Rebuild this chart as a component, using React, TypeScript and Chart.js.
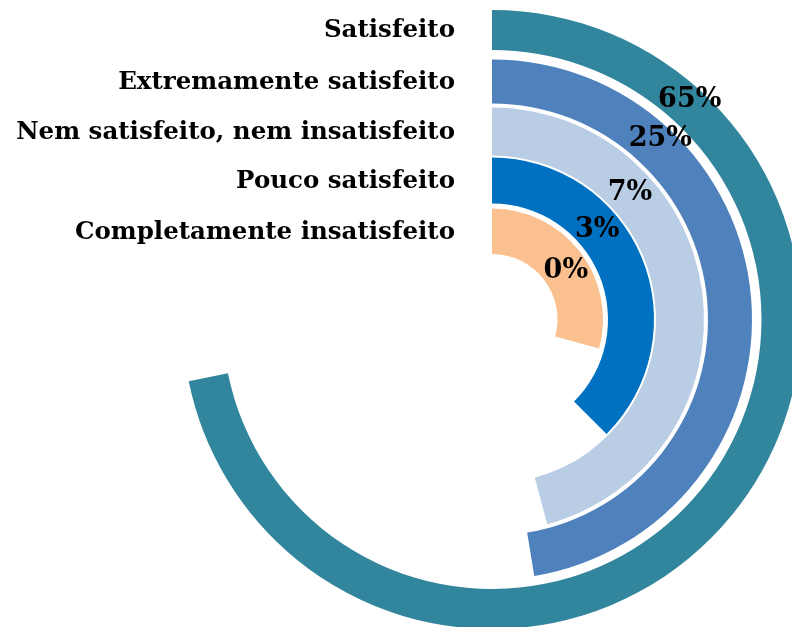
import React, { useEffect, useRef } from "react";
import { Chart, registerables } from "chart.js";

Chart.register(...registerables);

// ---- data ----
const categories = [
  "Satisfeito",
  "Extremamente satisfeito",
  "Nem satisfeito, nem insatisfeito",
  "Pouco satisfeito",
  "Completamente insatisfeito",
];
const percentValues = [65, 25, 7, 3, 0];
// share of the full circle (in %) covered by each visible ring arc
const arcShare = [71.8, 47.4, 45.8, 37.5, 29.2];

// ---- styling ----
const colors = ["#31859C", "#4F81BD", "#B9CDE5", "#0070C0", "#FAC090"];
const ringWeights = [40, 44, 48, 46, 45.5];
const gapWeights = [9.5, 4, 2, 5];
const labelAngles = [42, 43, 47.4, 49.6, 56.8];
const labelRadialPos = [0.65, 0.7, 0.49, 0.48, 0.5];

const FONT = "'DejaVu Serif', serif";

const labelPlugin = {
  id: "ringLabels",
  afterDatasetsDraw(chart: any) {
    const ctx = chart.ctx;
    const ringIdx: number[] = chart.$ringIndices || [];
    ctx.save();
    ringIdx.forEach((dsIndex: number, i: number) => {
      const meta = chart.getDatasetMeta(dsIndex);
      const arc = meta.data[0];
      if (!arc) return;
      const { x, y, innerRadius, outerRadius } = arc.getProps(
        ["x", "y", "innerRadius", "outerRadius"],
        true
      );
      const mid = (innerRadius + outerRadius) / 2;
      // category label at the start of each ring
      ctx.fillStyle = "#000";
      ctx.font = `bold 24.5px ${FONT}`;
      ctx.textAlign = "right";
      ctx.textBaseline = "middle";
      ctx.fillText(categories[i], x - 37, y - mid + 1);
      // percentage label on the ring
      const r = innerRadius + (outerRadius - innerRadius) * labelRadialPos[i];
      const a = (labelAngles[i] * Math.PI) / 180;
      ctx.font = `bold 27px ${FONT}`;
      ctx.textAlign = "center";
      ctx.fillText(
        percentValues[i] + "%",
        x + r * Math.sin(a),
        y - r * Math.cos(a)
      );
    });
    ctx.restore();
  },
};

export default function App() {
  const canvasRef = useRef<HTMLCanvasElement>(null);

  useEffect(() => {
    const canvas = canvasRef.current;
    if (!canvas) return;
    const datasets: any[] = [];
    const ringIndices: number[] = [];
    categories.forEach((cat, i) => {
      ringIndices.push(datasets.length);
      datasets.push({
        label: cat,
        data: [arcShare[i], 100 - arcShare[i]],
        backgroundColor: [colors[i], "rgba(0,0,0,0)"],
        borderWidth: 0,
        weight: ringWeights[i],
      });
      if (i < gapWeights.length) {
        datasets.push({
          label: "",
          data: [100],
          backgroundColor: ["rgba(0,0,0,0)"],
          borderWidth: 0,
          weight: gapWeights[i],
        });
      }
    });
    const chart: any = new Chart(canvas, {
      type: "doughnut",
      data: { labels: ["valor", "resto"], datasets },
      options: {
        responsive: false,
        animation: false,
        events: [],
        devicePixelRatio: 1,
        radius: 309.5,
        cutout: (65.5 / 309.5) * 100 + "%",
        rotation: 0,
        circumference: 360,
        layout: { padding: { left: 192, top: 12, right: 0, bottom: 0 } },
        plugins: {
          legend: { display: false },
          tooltip: { enabled: false },
        },
      } as any,
      plugins: [labelPlugin],
    });
    chart.$ringIndices = ringIndices;
    chart.draw();
    return () => chart.destroy();
  }, []);

  return (
    <div
      style={{
        position: "fixed",
        left: 0,
        top: 0,
        width: 792,
        height: 627,
        overflow: "hidden",
        background: "#fff",
      }}
    >
      <canvas
        ref={canvasRef}
        width={792}
        height={627}
        style={{ display: "block", width: 792, height: 627 }}
      />
    </div>
  );
}
